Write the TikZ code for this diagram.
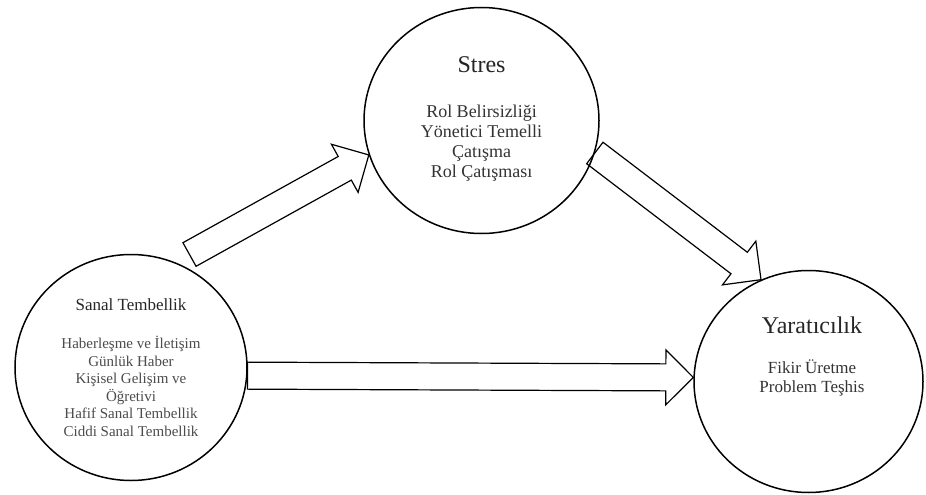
\documentclass[tikz,border=0pt]{standalone}
\usepackage{fontspec}
\setmainfont{Liberation Serif}
\usetikzlibrary{shapes.geometric,calc}

\tikzset{
  bubble/.style={draw, ellipse, line width=1.5pt, inner sep=0pt},
  title/.style={font=\fontsize{#1}{#1}\selectfont, text=black!85},
  body/.style={align=center, text=black!80},
  % hollow block arrow from the start point to the tip
  blockarrow/.style={draw, line width=1.2pt, line join=miter, to path={
    let \p1=(\tikztostart), \p2=(\tikztotarget),
        \n1={atan2(\y2-\y1,\x2-\x1)},
        \n2={veclen(\x2-\x1,\y2-\y1)-27.5} in
    ($(\p1)+(\n1+90:13.5)$) -- ($(\p1)+(\n1+90:13.5)+(\n1:\n2)$)
    -- ($(\p1)+(\n1+90:27.5)+(\n1:\n2)$) -- (\p2)
    -- ($(\p1)+(\n1-90:27.5)+(\n1:\n2)$) -- ($(\p1)+(\n1-90:13.5)+(\n1:\n2)$)
    -- ($(\p1)+(\n1-90:13.5)$) -- cycle}}
}

\begin{document}
\begin{tikzpicture}[x=1pt,y=1pt]
\useasboundingbox[fill=white] (0,0) rectangle (926,-495);

% the three concepts
\node[bubble, minimum width=232, minimum height=226] (sanal) at (131,-367.5) {};
\node[bubble, minimum width=235, minimum height=226] (stres) at (481.5,-120.5) {};
\node[bubble, minimum width=229, minimum height=222] (yarat) at (808.5,-381.5) {};

% texts inside the circles
\node[title=24] (stresT) at (481.5,-65) {Stres};
\node[body, font=\fontsize{18}{20}\selectfont] (stresB) at (481.5,-143)
  {Rol Belirsizliği\\Yönetici Temelli\\Çatışma\\Rol Çatışması};

\node[title=17] (sanalT) at (131,-305) {Sanal Tembellik};
\node[body, text=black!70, font=\fontsize{15}{17.5}\selectfont] (sanalB) at (131,-386.5)
  {Haberleşme ve İletişim\\Günlük Haber\\Kişisel Gelişim ve\\Öğretivi\\Hafif Sanal Tembellik\\Ciddi Sanal Tembellik};

\node[title=24] (yaratT) at (812,-325) {Yaratıcılık};
\node[body, font=\fontsize{17}{19}\selectfont] (yaratB) at (812,-377.5)
  {Fikir Üretme\\Problem Teşhis};

% connections
\coordinate (sanalOut) at (189.5,-254.5);
\draw[blockarrow] (sanalOut) to (stres.197);
\draw[blockarrow] (stres.-16.6) to (yarat.115.5);
\draw[blockarrow] (sanal.-4.7) to (yarat.178);
\end{tikzpicture}
\end{document}
